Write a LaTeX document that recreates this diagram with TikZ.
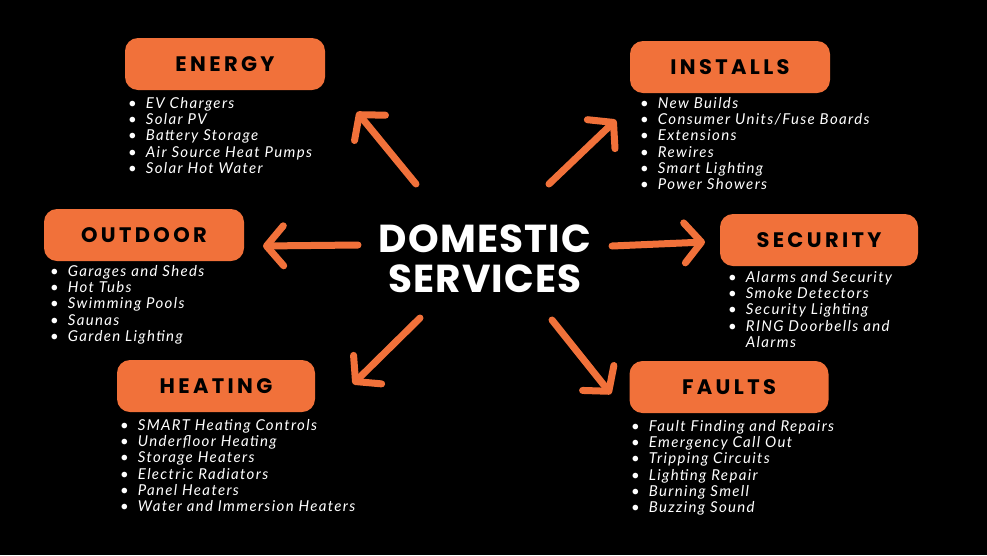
\documentclass[tikz,border=0pt]{standalone}
\usepackage{fontspec}
\setmainfont{Poppins}
\newfontfamily\listfont[LetterSpace=9]{Lato}
\newfontfamily\titlefont[LetterSpace=16]{Poppins}
\newfontfamily\centrefont[LetterSpace=3]{Poppins}
\usetikzlibrary{arrows.meta}
\definecolor{orng}{HTML}{F1713A}
\newcommand\bulletlist[1]{{\listfont\itshape\fontsize{15}{16.3}\selectfont\begin{tabular}{@{}c@{\hspace{9pt}}l@{}}#1\end{tabular}}}
\newcommand\bt{\textbullet}
\begin{document}
\begin{tikzpicture}[x=1pt,y=-1pt,
  titlebox/.style={fill=orng, rounded corners=13pt, minimum width=200pt, minimum height=52pt, inner sep=0pt,
    font=\titlefont\bfseries\fontsize{21}{21}\selectfont, text=black},
  listnode/.style={anchor=north west, inner sep=0pt, text=white},
  centretext/.style={text=white, inner sep=0pt, font=\centrefont\bfseries\fontsize{39}{39}\selectfont},
  arrowline/.style={draw=orng, line width=7pt, line cap=round, line join=round,
    -{Straight Barb[length=17pt,width=40pt,round]}}]
\fill[black] (0,0) rectangle (987,555);
\useasboundingbox (0,0) rectangle (987,555);

% title boxes
\node[titlebox] (energy) at (225,64) {ENERGY};
\node[titlebox] (installs) at (730,67) {INSTALLS};
\node[titlebox] (outdoor) at (144,235) {OUTDOOR};
\node[titlebox, minimum width=198pt] (security) at (819,240) {SECURITY};
\node[titlebox, minimum width=198pt] (heating) at (216,386) {HEATING};
\node[titlebox, minimum width=199pt] (faults) at (729,387) {FAULTS};

% centre
\node[centretext] (centre1) at (485,239) {DOMESTIC};
\node[centretext] (centre2) at (485,279) {SERVICES};

% lists
\node[listnode] (energylist) at (128,96.5) {\bulletlist{\bt & EV Chargers\\ \bt & Solar PV\\ \bt & Battery Storage\\ \bt & Air Source Heat Pumps\\ \bt & Solar Hot Water}};
\node[listnode] (installslist) at (640,96.5) {\bulletlist{\bt & New Builds\\ \bt & Consumer Units/Fuse Boards\\ \bt & Extensions\\ \bt & Rewires\\ \bt & Smart Lighting\\ \bt & Power Showers}};
\node[listnode] (outdoorlist) at (50,264.5) {\bulletlist{\bt & Garages and Sheds\\ \bt & Hot Tubs\\ \bt & Swimming Pools\\ \bt & Saunas\\ \bt & Garden Lighting}};
\node[listnode] (securitylist) at (728,270.5) {\bulletlist{\bt & Alarms and Security\\ \bt & Smoke Detectors\\ \bt & Security Lighting\\ \bt & RING Doorbells and\\ & Alarms}};
\node[listnode] (heatinglist) at (120,418.5) {\bulletlist{\bt & SMART Heating Controls\\ \bt & Underfloor Heating\\ \bt & Storage Heaters\\ \bt & Electric Radiators\\ \bt & Panel Heaters\\ \bt & Water and Immersion Heaters}};
\node[listnode] (faultslist) at (631,419.5) {\bulletlist{\bt & Fault Finding and Repairs\\ \bt & Emergency Call Out\\ \bt & Tripping Circuits\\ \bt & Lighting Repair\\ \bt & Burning Smell\\ \bt & Buzzing Sound}};

% arrow endpoints
\coordinate (eT) at (416,184); \coordinate (eH) at (357,112);
\coordinate (iT) at (549,184); \coordinate (iH) at (616,120);
\coordinate (oT) at (358,245); \coordinate (oH) at (263,246);
\coordinate (sT) at (612,246); \coordinate (sH) at (705,242);
\coordinate (hT) at (420,318); \coordinate (hH) at (353,384);
\coordinate (fT) at (552,320); \coordinate (fH) at (611,394);

\draw[arrowline] (eT) -- (eH);
\draw[arrowline] (iT) -- (iH);
\draw[arrowline] (oT) -- (oH);
\draw[arrowline] (sT) -- (sH);
\draw[arrowline] (hT) -- (hH);
\draw[arrowline] (fT) -- (fH);
\end{tikzpicture}
\end{document}
